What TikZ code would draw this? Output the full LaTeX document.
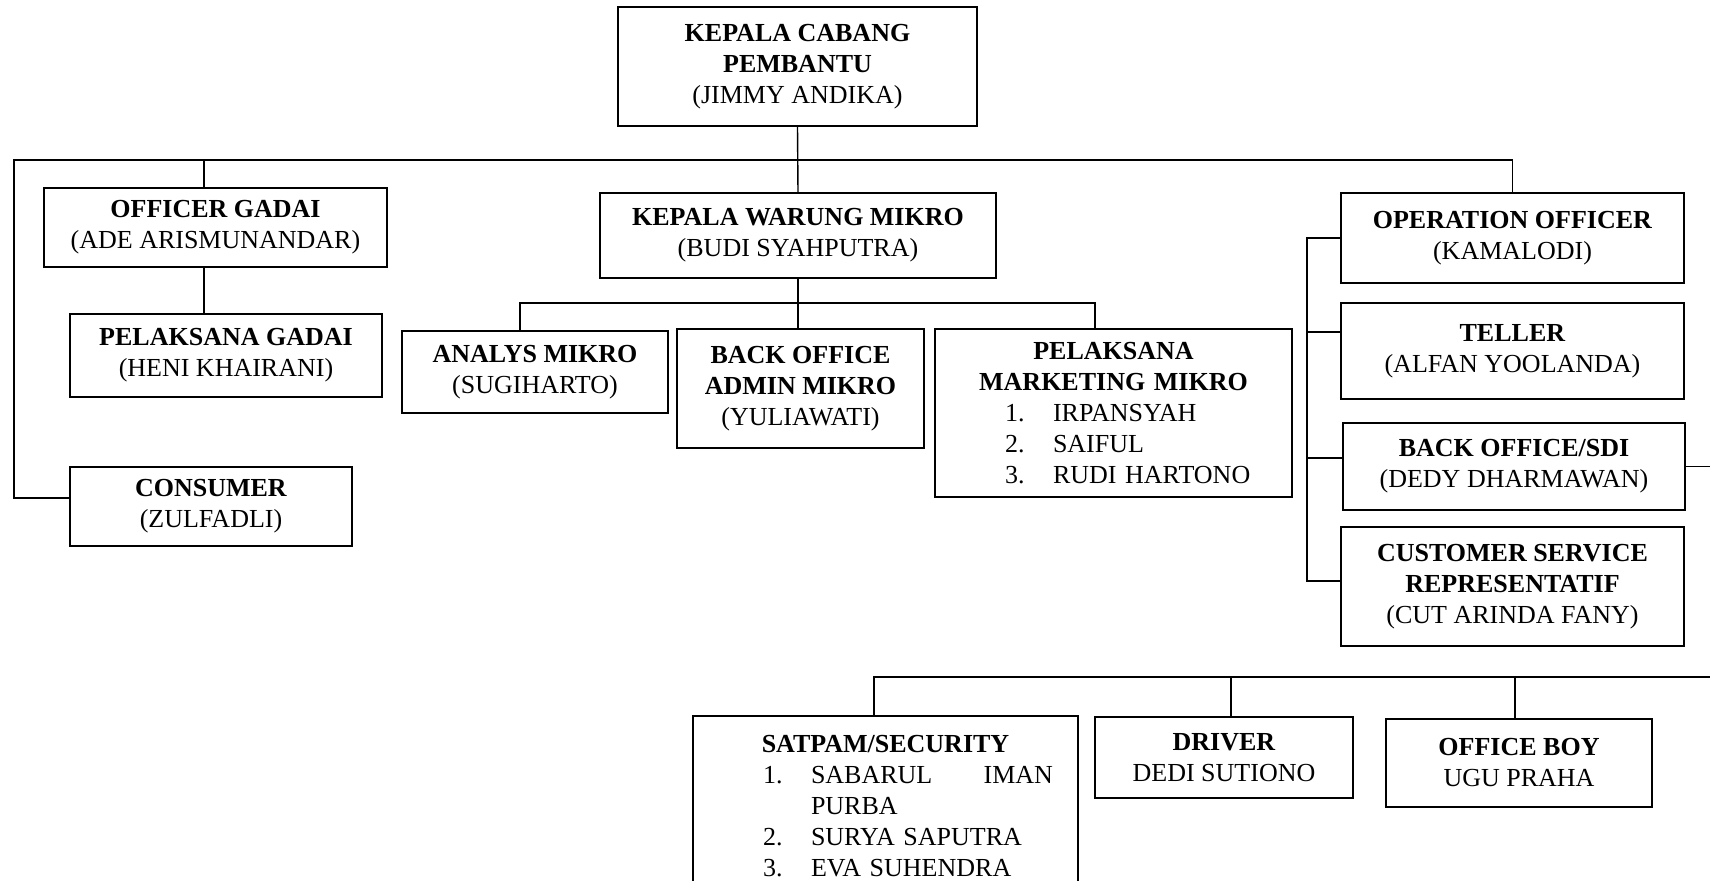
\documentclass[tikz,border=0pt]{standalone}
\usepackage{fontspec}
\setmainfont{Liberation Serif}
\newcommand{\numrow}[2]{\makebox[\hsize][l]{\hspace*{35pt}\makebox[24pt][l]{#1}#2}}

\begin{document}
\begin{tikzpicture}[x=0.5pt,y=-0.5pt,
  unit/.style={draw,line width=0.9pt,rectangle,align=center,inner sep=0pt,
    font=\fontsize{13}{15.5}\selectfont},
  link/.style={line width=0.7pt}]
  \useasboundingbox (0,0) rectangle (1710,881);
  \clip (0,0) rectangle (1710,881);

  % Head of branch
  \node[unit,minimum width=179.5pt,minimum height=59.5pt] (kcp) at (797.5,66.5)
    {\textbf{KEPALA CABANG}\\\textbf{PEMBANTU}\\(JIMMY ANDIKA)};

  % Left column
  \node[unit,minimum width=171.5pt,minimum height=39.5pt] (og) at (215.5,227.5)
    {\textbf{OFFICER GADAI}\\(ADE ARISMUNANDAR)};
  \node[unit,minimum width=156pt,minimum height=41.5pt] (pg) at (226,355.5)
    {\textbf{PELAKSANA GADAI}\\(HENI KHAIRANI)};
  \node[unit,minimum width=141pt,minimum height=39.5pt] (cons) at (211,506.5)
    {\textbf{CONSUMER}\\(ZULFADLI)};

  % Warung mikro
  \node[unit,minimum width=198pt,minimum height=42.5pt] (kwm) at (798,235.5)
    {\textbf{KEPALA WARUNG MIKRO}\\(BUDI SYAHPUTRA)};
  \node[unit,minimum width=133pt,minimum height=41pt] (am) at (535,372)
    {\textbf{ANALYS MIKRO}\\(SUGIHARTO)};
  \node[unit,minimum width=123.5pt,minimum height=59.5pt] (boam) at (800.5,388.5)
    {\textbf{BACK OFFICE}\\\textbf{ADMIN MIKRO}\\(YULIAWATI)};
  \node[unit,text width=178.5pt,minimum height=84pt] (pmm) at (1113.5,413)
    {\textbf{PELAKSANA}\\\textbf{MARKETING MIKRO}\\
     \numrow{1.}{IRPANSYAH}\\\numrow{2.}{SAIFUL}\\\numrow{3.}{RUDI HARTONO}};

  % Operation column
  \node[unit,minimum width=171.5pt,minimum height=45pt] (oo) at (1512.5,238)
    {\textbf{OPERATION OFFICER}\\(KAMALODI)};
  \node[unit,minimum width=171.5pt,minimum height=48pt] (tel) at (1512.5,351)
    {\textbf{TELLER}\\(ALFAN YOOLANDA)};
  \node[unit,minimum width=171pt,minimum height=43.5pt] (bos) at (1514,466.5)
    {\textbf{BACK OFFICE/SDI}\\(DEDY DHARMAWAN)};
  \node[unit,minimum width=171.5pt,minimum height=59.5pt] (csr) at (1512.5,586.5)
    {\textbf{CUSTOMER SERVICE}\\\textbf{REPRESENTATIF}\\(CUT ARINDA FANY)};

  % Support staff
  \node[unit,text width=192.5pt,minimum height=90.5pt] (sat) at (885.5,806.5)
    {\textbf{SATPAM/SECURITY}\\
     \makebox[\hsize][l]{\hspace*{35pt}\makebox[24pt][l]{1.}SABARUL\hfill IMAN\hspace*{12.5pt}}\\
     \makebox[\hsize][l]{\hspace*{59pt}PURBA}\\
     \numrow{2.}{SURYA SAPUTRA}\\\numrow{3.}{EVA SUHENDRA}};
  \node[unit,minimum width=129pt,minimum height=40.5pt] (drv) at (1224,757.5)
    {\textbf{DRIVER}\\DEDI SUTIONO};
  \node[unit,minimum width=133pt,minimum height=44pt] (ob) at (1519,763)
    {\textbf{OFFICE BOY}\\UGU PRAHA};

  % Junction points
  \coordinate (bus) at (798,160);
  \coordinate (busL) at (14,160);
  \coordinate (ogx) at (204,160);
  \coordinate (amx) at (520,303);
  \coordinate (pmx) at (1095,303);
  \coordinate (brk) at (1307,238);
  \coordinate (edgeR) at (1710,468);
  \coordinate (lowbus) at (874,677);
  \coordinate (drvx) at (1231,677);
  \coordinate (obx) at (1515,677);

  % Main bus
  \draw[link] (kcp.south) -- (kwm.north);
  \draw[link] ([yshift=4.25pt]cons.west) -| (busL) -- (bus -| oo.north) -- (oo.north);
  \draw[link] (ogx) -- (ogx |- og.north);
  \draw[link] (og.south -| ogx) -- (pg.north -| ogx);

  % Warung mikro branch
  \draw[link] (amx |- am.north) -- (amx) -- (pmx) -- (pmx |- pmm.north);
  \draw[link] (kwm.south) -- (kwm.south |- boam.north);

  % Operation bracket
  \draw[link] (oo.west) -- (brk) -- ([yshift=2.75pt]csr.west -| brk) -- ([yshift=2.75pt]csr.west);
  \foreach \n/\dy in {tel/9.5,bos/4.25} {
    \draw[link] ([yshift=\dy pt]\n.west) -- ([yshift=\dy pt]\n.west -| brk);
  }
  \draw[link] (bos.east) -- (bos.east -| edgeR);

  % Lower bus
  \draw[link] (sat.north -| lowbus) -- (lowbus) -- (lowbus -| edgeR);
  \draw[link] (drvx) -- (drvx |- drv.north);
  \draw[link] (obx) -- (obx |- ob.north);
\end{tikzpicture}
\end{document}
